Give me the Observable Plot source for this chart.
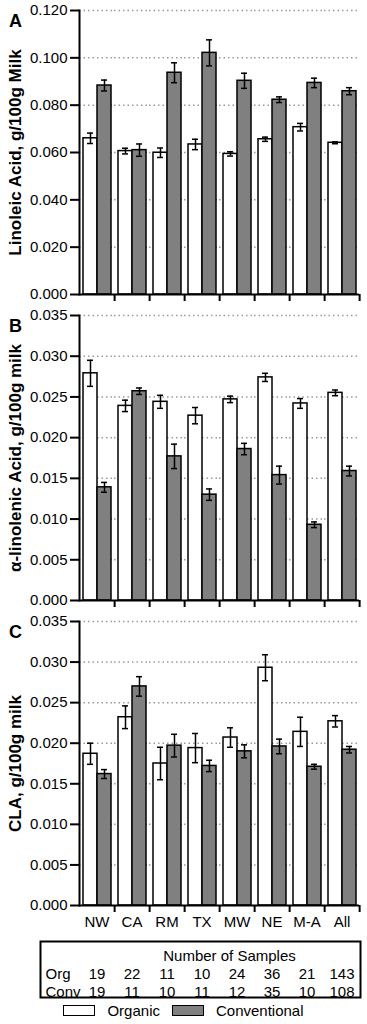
<!DOCTYPE html>
<html>
<head>
<meta charset="utf-8">
<script src="https://cdn.jsdelivr.net/npm/d3@7"></script>
<script src="https://cdn.jsdelivr.net/npm/@observablehq/plot@0.6"></script>
<style>
  body { margin: 0; background: #fff; font-family: "Liberation Sans", Arial, sans-serif; }
  #chart { width: 367px; }
  #chart svg { display: block; }
  .legend { display: flex; justify-content: center; align-items: center; height: 19px; font-size: 15px; color: #000; }
  .sw { width: 30px; height: 9px; border: 1.5px solid #000; margin-right: 12px; }
  .item { display: flex; align-items: center; margin: 0 6px; }
</style>
</head>
<body>
<div id="chart"></div>
<script>
// ---- data ----
const regions = ["NW", "CA", "RM", "TX", "MW", "NE", "M-A", "All"];
const types = ["Organic", "Conventional"];

const laOrg    = [0.0660, 0.0606, 0.0599, 0.0634, 0.0594, 0.0656, 0.0707, 0.0641];
const laOrgSE  = [0.0022, 0.0012, 0.0020, 0.0022, 0.0009, 0.0009, 0.0016, 0.0004];
const laConv   = [0.0883, 0.0610, 0.0937, 0.1021, 0.0903, 0.0823, 0.0894, 0.0859];
const laConvSE = [0.0023, 0.0026, 0.0042, 0.0055, 0.0032, 0.0012, 0.0020, 0.0015];

const alaOrg    = [0.0279, 0.0239, 0.0244, 0.0227, 0.0247, 0.0274, 0.0242, 0.0255];
const alaOrgSE  = [0.0016, 0.0007, 0.0008, 0.0010, 0.0004, 0.0005, 0.0006, 0.00035];
const alaConv   = [0.0139, 0.0257, 0.0177, 0.0130, 0.0186, 0.0154, 0.0093, 0.0159];
const alaConvSE = [0.0006, 0.0004, 0.0015, 0.0007, 0.0007, 0.0011, 0.00035, 0.0006];

const claOrg    = [0.0187, 0.0232, 0.0175, 0.0194, 0.0207, 0.0293, 0.0214, 0.0227];
const claOrgSE  = [0.0013, 0.0014, 0.0020, 0.0018, 0.0012, 0.0016, 0.0018, 0.0007];
const claConv   = [0.0162, 0.0270, 0.0197, 0.0172, 0.0190, 0.0196, 0.0171, 0.0192];
const claConvSE = [0.00055, 0.0012, 0.0014, 0.0007, 0.0008, 0.0009, 0.0003, 0.0004];

const ticksA = [0, 0.02, 0.04, 0.06, 0.08, 0.10, 0.12];
const ticksBC = [0, 0.005, 0.010, 0.015, 0.020, 0.025, 0.030, 0.035];

const tableHeader = "Number of Samples";
const rowLabels = ["Org", "Conv"];
const nOrg  = [19, 22, 11, 10, 24, 36, 21, 143];
const nConv = [19, 11, 10, 11, 12, 35, 10, 108];

// ---- layout ----
const W = 367, ML = 78, MR = 7;
const facetW = (W - ML - MR) / regions.length;
const font = '"Liberation Sans", Arial, sans-serif';

function rows(org, orgSE, conv, convSE) {
  return regions.flatMap((r, i) => [
    {region: r, type: types[0], value: org[i], se: orgSE[i]},
    {region: r, type: types[1], value: conv[i], se: convSE[i]}
  ]);
}

function panel({letter, label, data, yMax, yTicks, height, marginTop, marginBottom, showLabels}) {
  return Plot.plot({
    width: W, height, marginLeft: ML, marginRight: MR, marginTop, marginBottom,
    style: {fontFamily: font, fontSize: "15px", background: "white", color: "black", overflow: "visible"},
    fx: {domain: regions, padding: 0, axis: null, label: null},
    x: {domain: types, paddingInner: 0, paddingOuter: 0.25, axis: null},
    y: {domain: [0, yMax], axis: null},
    color: {domain: types, range: ["#ffffff", "#808080"]},
    marks: [
      Plot.gridY(yTicks.filter(d => d > 0), {stroke: "#9a9a9a", strokeOpacity: 1, strokeWidth: 1.5, strokeDasharray: "1.5,3"}),
      Plot.barY(data, {fx: "region", x: "type", y: "value", fill: "type", stroke: "black", strokeWidth: 1.5}),
      Plot.ruleX(data, {fx: "region", x: "type", y1: d => d.value - d.se, y2: d => d.value + d.se, stroke: "black", strokeWidth: 1.5}),
      Plot.tickY(data, {fx: "region", x: "type", y: d => d.value + d.se, insetLeft: 4, insetRight: 4, stroke: "black", strokeWidth: 1.5}),
      Plot.tickY(data, {fx: "region", x: "type", y: d => d.value - d.se, insetLeft: 4, insetRight: 4, stroke: "black", strokeWidth: 1.5}),
      Plot.ruleY([0], {stroke: "black", strokeWidth: 2}),
      Plot.frame({anchor: "left", facetAnchor: "left", stroke: "black", strokeWidth: 2}),
      Plot.axisY(yTicks, {tickSize: 9, tickPadding: 3, tickFormat: d3.format(".3f"), stroke: "black", strokeWidth: 2, label: null}),
      Plot.axisFx({anchor: "bottom", tickSize: 7, dx: facetW / 2, stroke: "black", strokeWidth: 2, fill: "none", label: null}),
      showLabels ? Plot.axisFx({anchor: "bottom", tickSize: 0, tickPadding: 11, label: null}) : null,
      Plot.text([{fx: regions[0], t: letter}], {fx: "fx", text: "t", frameAnchor: "top-left", textAnchor: "middle", dx: -64, dy: 4, fontWeight: "bold", fontSize: 18}),
      Plot.text([{fx: regions[0], t: label}], {fx: "fx", text: "t", frameAnchor: "left", textAnchor: "middle", rotate: -90, dx: -64, fontWeight: "bold", fontSize: 17})
    ]
  });
}

const chart = document.getElementById("chart");

chart.append(panel({
  letter: "A", label: "Linoleic Acid, g/100g Milk",
  data: rows(laOrg, laOrgSE, laConv, laConvSE),
  yMax: 0.12, yTicks: ticksA, height: 304, marginTop: 10, marginBottom: 10, showLabels: false
}));
chart.append(panel({
  letter: "B", label: "α-linolenic Acid, g/100g milk",
  data: rows(alaOrg, alaOrgSE, alaConv, alaConvSE),
  yMax: 0.035, yTicks: ticksBC, height: 306, marginTop: 11, marginBottom: 10, showLabels: false
}));
chart.append(panel({
  letter: "C", label: "CLA, g/100g milk",
  data: rows(claOrg, claOrgSE, claConv, claConvSE),
  yMax: 0.035, yTicks: ticksBC, height: 325, marginTop: 11, marginBottom: 30, showLabels: true
}));

// sample-size table
const tableRows = regions.flatMap((r, i) => [
  {region: r, row: rowLabels[0], n: nOrg[i]},
  {region: r, row: rowLabels[1], n: nConv[i]}
]);
chart.append(Plot.plot({
  width: W, height: 66, marginLeft: ML, marginRight: MR, marginTop: 26, marginBottom: 4,
  style: {fontFamily: font, fontSize: "15px", background: "white", color: "black", overflow: "visible"},
  x: {type: "band", domain: regions, padding: 0, axis: null},
  y: {type: "band", domain: rowLabels, padding: 0, axis: null},
  marks: [
    Plot.frame({insetLeft: -(ML - 40), insetTop: -20, stroke: "black", strokeWidth: 2}),
    Plot.text([tableHeader], {frameAnchor: "top", dy: -11, dx: 10}),
    Plot.text(tableRows, {x: "region", y: "row", text: "n", dy: 4}),
    Plot.text(rowLabels, {y: d => d, text: d => d, frameAnchor: "left", textAnchor: "start", dx: 45 - ML, dy: 4})
  ]
}));

// legend
const legend = document.createElement("div");
legend.className = "legend";
types.forEach((t, i) => {
  const item = document.createElement("div");
  item.className = "item";
  const sw = document.createElement("div");
  sw.className = "sw";
  sw.style.background = ["#ffffff", "#808080"][i];
  const lab = document.createElement("span");
  lab.textContent = t;
  item.append(sw, lab);
  legend.append(item);
});
chart.append(legend);
</script>
</body>
</html>
